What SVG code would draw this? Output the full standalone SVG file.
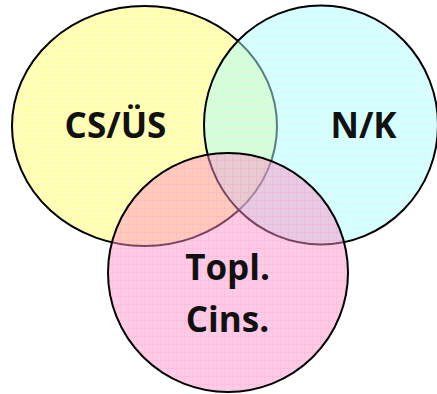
<svg xmlns="http://www.w3.org/2000/svg" width="437" height="394" viewBox="0 0 437 394">
  <style>
    .circ { stroke: #000; stroke-width: 2; }
    .lbl { font-family: "Open Sans", "DejaVu Sans", sans-serif; font-weight: bold; font-size: 35px; fill: #111; text-anchor: middle; }
  </style>
  <defs>
    <pattern id="pY" width="8" height="8" patternUnits="userSpaceOnUse">
      <rect width="8" height="8" fill="#FFFFB0"/>
      <path d="M0 0.5H8M0.5 0V8" stroke="#FFF8C8" stroke-width="1"/>
    </pattern>
    <pattern id="pC" width="8" height="8" patternUnits="userSpaceOnUse">
      <rect width="8" height="8" fill="#A8FFFF"/>
      <path d="M0 0.5H8M0.5 0V8" stroke="#C0F4F8" stroke-width="1"/>
    </pattern>
    <pattern id="pP" width="8" height="8" patternUnits="userSpaceOnUse">
      <rect width="8" height="8" fill="#FF90C8"/>
      <path d="M0 0.5H8M0.5 0V8" stroke="#F47CB8" stroke-width="1"/>
    </pattern>
  </defs>
  <rect width="437" height="394" fill="#fff"/>
  <g id="node-csus">
    <ellipse class="circ" cx="144.5" cy="126" rx="132.5" ry="120" fill="url(#pY)"/>
    <text class="lbl" x="115.5" y="138">CS/ÜS</text>
  </g>
  <g id="node-nk">
    <ellipse class="circ" cx="321" cy="125" rx="117" ry="119.5" fill="url(#pC)" fill-opacity="0.5"/>
    <text class="lbl" x="363.5" y="138">N/K</text>
  </g>
  <g id="node-topl">
    <ellipse class="circ" cx="228" cy="272.5" rx="120" ry="119.5" fill="url(#pP)" fill-opacity="0.48"/>
    <text class="lbl" x="227.5" y="280">Topl.</text>
    <text class="lbl" x="227.5" y="332">Cins.</text>
  </g>
  <g id="connectors"></g>
</svg>
